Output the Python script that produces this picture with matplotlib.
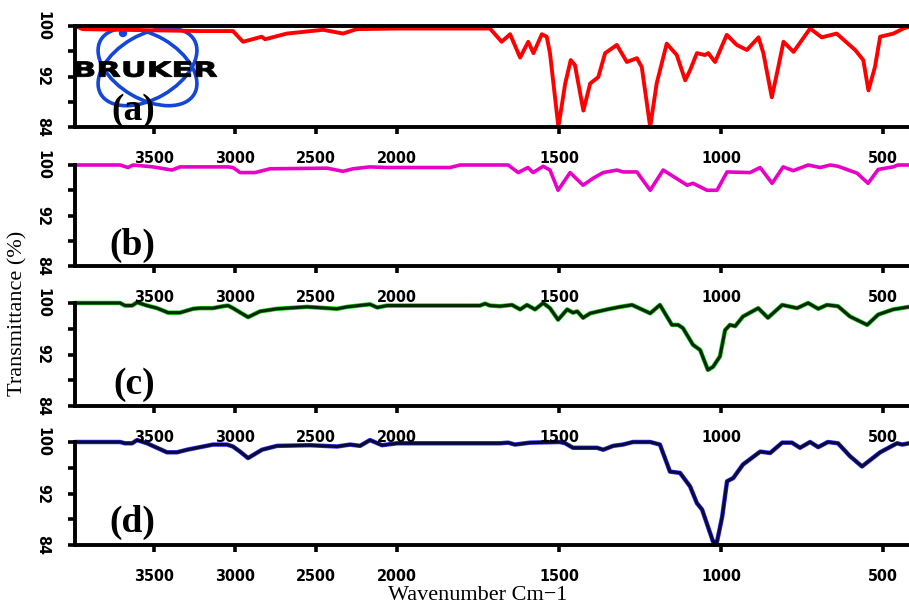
import numpy as np
import matplotlib
matplotlib.use("Agg")
import matplotlib.pyplot as plt
from matplotlib.patches import Ellipse, Circle, PathPatch
from matplotlib.textpath import TextPath
from matplotlib.font_manager import FontProperties
from matplotlib.transforms import Affine2D

# ---------------- data (wavenumber cm-1, transmittance %) ----------------
wn_a = [3985, 3936, 3214, 3011, 2949, 2834, 2813, 2679, 2455, 2332, 2248, 2000,
        1713, 1677, 1651, 1620, 1595, 1579, 1553, 1538, 1528, 1502, 1481, 1464,
        1451, 1425, 1404, 1379, 1358, 1322, 1291, 1260, 1245, 1219, 1199, 1168,
        1137, 1111, 1096, 1075, 1050, 1040, 1019, 983, 952, 921, 885, 870, 844,
        824, 808, 777, 726, 690, 644, 587, 562, 546, 526, 510, 469, 438, 421]
tr_a = [100.0, 99.5, 99.2, 99.2, 97.5, 98.3, 97.9, 98.8, 99.4, 98.8, 99.5, 99.6,
        99.6, 97.5, 98.7, 95.0, 97.5, 95.7, 98.7, 98.3, 95.7, 84.0, 90.9, 94.6,
        93.8, 86.6, 90.9, 91.9, 95.7, 97.0, 94.3, 94.9, 93.5, 84.0, 90.9, 97.2,
        95.4, 91.4, 93.0, 95.7, 95.4, 95.7, 94.3, 98.6, 97.0, 96.2, 98.2, 95.7, 88.7,
        93.5, 97.5, 95.9, 99.6, 98.2, 98.8, 96.2, 94.6, 89.8, 93.5, 98.3, 98.8, 99.6, 99.9]

wn_b = [3985, 3707, 3658, 3627, 3504, 3387, 3337, 3041, 3011, 2967, 2875, 2782,
        2431, 2332, 2270, 2166, 2061, 1836, 1805, 1657, 1626, 1596, 1580, 1549,
        1528, 1503, 1466, 1426, 1395, 1364, 1321, 1303, 1260, 1219, 1179, 1105,
        1087, 1044, 1013, 982, 911, 880, 843, 809, 778, 732, 695, 664, 640, 581,
        547, 516, 470, 455, 421]
tr_b = [100.0, 100.0, 99.6, 100.0, 99.7, 99.2, 99.7, 99.7, 99.6, 98.8, 98.8, 99.4,
        99.5, 99.0, 99.4, 99.7, 99.6, 99.6, 100.0, 100.0, 98.8, 99.6, 98.8, 99.8,
        99.2, 96.0, 98.8, 96.8, 97.9, 98.8, 99.2, 98.9, 98.9, 96.0, 99.2, 96.8,
        97.1, 96.0, 96.0, 98.9, 98.8, 99.6, 97.1, 99.7, 99.1, 100.0, 99.6, 100.0, 99.8, 98.7,
        97.1, 99.3, 99.7, 100.0, 100.0]

wn_c = [3985, 3707, 3677, 3633, 3602, 3541, 3479, 3411, 3337, 3257, 3214, 3134,
        3072, 3041, 3011, 2918, 2844, 2739, 2554, 2369, 2307, 2166, 2122, 2061,
        1950, 1744, 1728, 1713, 1682, 1645, 1620, 1599, 1574, 1549, 1528, 1503,
        1475, 1457, 1444, 1426, 1404, 1352, 1312, 1275, 1219, 1189, 1152, 1133,
        1118, 1087, 1065, 1041, 1025, 1004, 988, 973, 957, 933, 886, 856, 812,
        766, 732, 701, 674, 640, 603, 550, 516, 470, 421]
tr_c = [100.0, 100.0, 99.6, 99.6, 100.1, 99.6, 99.2, 98.5, 98.5, 99.1, 99.2, 99.2,
        99.5, 99.6, 99.2, 97.8, 98.7, 99.1, 99.4, 99.1, 99.4, 99.8, 99.3, 99.6,
        99.6, 99.6, 99.9, 99.6, 99.5, 99.7, 99.0, 99.7, 99.0, 100.0, 99.2, 97.4,
        99.0, 98.5, 98.7, 97.7, 98.4, 99.0, 99.4, 99.7, 98.4, 99.7, 96.6, 96.6,
        96.1, 93.5, 92.7, 89.6, 90.1, 91.7, 95.8, 96.6, 96.4, 97.9, 99.2, 97.7, 99.7,
        99.2, 100.0, 99.1, 99.7, 99.5, 97.9, 96.6, 98.2, 99.0, 99.4]

wn_d = [3985, 3707, 3677, 3633, 3602, 3541, 3418, 3356, 3294, 3214, 3134, 3048,
        3011, 2967, 2918, 2832, 2739, 2536, 2369, 2289, 2227, 2166, 2092, 2000,
        1682, 1657, 1636, 1589, 1497, 1481, 1457, 1383, 1364, 1333, 1303, 1272,
        1219, 1189, 1158, 1127, 1096, 1075, 1059, 1025, 1013, 997, 982, 963, 933,
        880, 849, 812, 782, 757, 726, 701, 671, 640, 603, 566, 510, 458, 442, 421]
tr_d = [100.0, 100.0, 99.8, 99.8, 100.3, 99.8, 98.4, 98.4, 98.8, 99.2, 99.6, 99.6,
        99.3, 98.5, 97.5, 98.8, 99.4, 99.5, 99.3, 99.6, 99.4, 100.3, 99.5, 99.8,
        99.8, 99.9, 99.6, 99.9, 100.0, 99.8, 99.1, 99.1, 98.8, 99.4, 99.6, 100.0,
        100.0, 99.6, 95.4, 95.2, 93.1, 90.5, 89.5, 84.5, 84.5, 88.4, 93.9, 94.4, 96.5,
        98.5, 98.3, 99.9, 99.9, 99.1, 100.0, 99.2, 100.0, 99.8, 97.8, 96.2, 98.4, 99.8, 99.6, 99.8]

panel_labels = ["(a)", "(b)", "(c)", "(d)"]
xtick_vals = [3500, 3000, 2500, 2000, 1500, 1000, 500]
ytick_major = [100, 92, 84]
ytick_minor = [96, 88]
x_label = "Wavenumber Cm\u22121"
y_label = "Transmittance (%)"

# ---------------- figure ----------------
W, H = 909, 606
fig = plt.figure(figsize=(W / 100, H / 100), dpi=100)

def fwd(w):
    w = np.asarray(w, dtype=float)
    return np.where(w > 2000, 2000 + (w - 2000) / 2.0, w)

def inv(s):
    s = np.asarray(s, dtype=float)
    return np.where(s > 2000, 2000 + (s - 2000) * 2.0, s)

# panel rectangles in pixel rows (top, bottom)
rows = [(26, 127), (165, 266), (303, 406), (442, 545)]
left_px = 75

series = [(wn_a, tr_a), (wn_b, tr_b), (wn_c, tr_c), (wn_d, tr_d)]
label_pos = [(0.070, 0.16), (0.069, 0.20), (0.071, 0.205), (0.069, 0.22)]

tick_fp = FontProperties(family="DejaVu Sans", weight="heavy", stretch="condensed", size=11.5)

axes = []
for i, (top, bot) in enumerate(rows):
    ax = fig.add_axes([left_px / W, 1 - bot / H, 1 - left_px / W, (bot - top) / H])
    ax.set_zorder(10 - i)
    ax.patch.set_visible(False)
    ax.set_xscale("function", functions=(fwd, inv))
    ax.set_xlim(3985, 421)
    ax.set_ylim(84, 100)
    wn, tr = series[i]
    kw = dict(clip_on=False, solid_joinstyle="round", solid_capstyle="round")
    if i == 0:
        ax.plot(wn, tr, color="#ff0000", lw=2.8, **kw)
    elif i == 1:
        ax.plot(wn, tr, color="#e800c8", lw=2.6, **kw)
    elif i == 2:
        ax.plot(wn, tr, color="#18c818", lw=3.2, **kw)
        ax.plot(wn, tr, color="#062806", lw=2.2, **kw)
    else:
        ax.plot(wn, tr, color="#3030ff", lw=3.2, **kw)
        ax.plot(wn, tr, color="#0a0a36", lw=2.2, **kw)

    ax.set_xticks(xtick_vals)
    ax.set_xticklabels([str(v) for v in xtick_vals])
    ax.xaxis.set_minor_locator(matplotlib.ticker.NullLocator())
    ax.set_yticks(ytick_major)
    ax.set_yticklabels([str(v) for v in ytick_major])
    ax.set_yticks(ytick_minor, minor=True)
    ax.tick_params(axis="both", which="both", direction="out", length=5, width=2.6, color="black")
    ax.tick_params(axis="x", pad=12)
    ax.tick_params(axis="y", pad=13)
    for lab in ax.get_xticklabels():
        lab.set_fontproperties(tick_fp)
    for lab in ax.get_yticklabels():
        lab.set_fontproperties(tick_fp)
        lab.set_rotation(-90)
        lab.set_va("center")
        lab.set_ha("right")

    for side in ["left", "bottom", "top"]:
        ax.spines[side].set_linewidth(2.8)
        ax.spines[side].set_color("black")
    ax.spines["right"].set_visible(False)
    if i != 0:
        ax.spines["top"].set_visible(False)

    ax.text(label_pos[i][0], label_pos[i][1], panel_labels[i], transform=ax.transAxes,
            ha="center", va="center", fontsize=27, fontweight="bold",
            family="Liberation Serif", color="black", zorder=5)
    axes.append(ax)

# ---------------- BRUKER logo (decoration) ----------------
ov = fig.add_axes([0, 0, 1, 1])
ov.set_zorder(5)
ov.patch.set_visible(False)
ov.set_xlim(0, W)
ov.set_ylim(0, H)
ov.axis("off")
blue = "#1446d8"
ov.add_patch(Ellipse((147.5, H - 67), 108, 64, angle=-30, fill=False, ec=blue, lw=2.6))
ov.add_patch(Ellipse((147.5, H - 67), 108, 64, angle=30, fill=False, ec=blue, lw=2.6))
ov.add_patch(Circle((123, H - 33), 3.5, color=blue))
tp = TextPath((0, 0), "BRUKER", size=1, prop=FontProperties(family="DejaVu Sans", weight="heavy"))
ext = tp.get_extents()
tr = (Affine2D().translate(-ext.x0, -ext.y0)
      .scale(142 / ext.width, 15.5 / ext.height)
      .translate(75, H - 77))
ov.add_patch(PathPatch(tr.transform_path(tp), fc="black", ec="black", lw=0.6))

# ---------------- axis labels ----------------
fig.text(478 / W, 1 - 595 / H, x_label, ha="center", va="center",
         fontsize=16, family="Liberation Serif")
fig.text(18 / W, 1 - 313 / H, y_label, ha="center", va="center", rotation=90,
         fontsize=16, family="Liberation Serif")

fig.savefig("out.png", dpi=100, facecolor="white")
